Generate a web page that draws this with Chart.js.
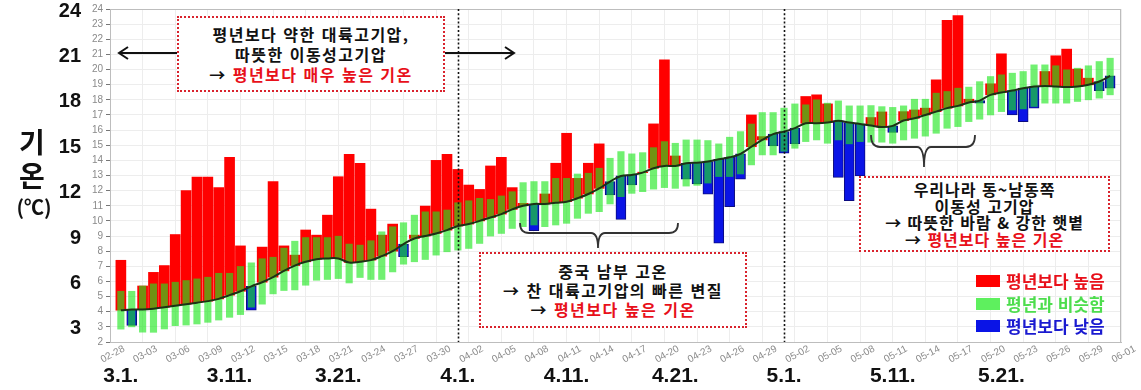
<!DOCTYPE html>
<html lang="ko">
<head>
<meta charset="utf-8">
<script src="https://cdn.jsdelivr.net/npm/chart.js@4/dist/chart.umd.min.js"></script>
<style>
  html, body { margin: 0; padding: 0; background: #fff; }
  #wrap { position: relative; width: 1141px; height: 390px; overflow: hidden; font-family: 'Noto Sans CJK KR', sans-serif; }
  #c { position: absolute; left: 0; top: 0; }
  .box { position: absolute; box-sizing: border-box; border: 2px dotted #d9232d; background: #fff;
         display: flex; flex-direction: column; justify-content: center; align-items: center;
         font-size: 16px; font-weight: bold; letter-spacing: 1.5px; color: #111; white-space: nowrap; }
  .red { color: #e8101a; }
  .ytitle { position: absolute; font-weight: bold; color: #111; text-align: center; }
  .leg { position: absolute; left: 976px; display: flex; align-items: center; font-weight: bold; font-size: 17px; white-space: nowrap; }
  .leg span.sw { display: inline-block; width: 24px; height: 12px; margin-right: 6px; }
</style>
</head>
<body>
<div id="wrap">
  <canvas id="c" width="1141" height="390"></canvas>

  <div class="ytitle" style="left:14px; top:124px; width:36px; font-size:28px; line-height:34px;">기</div>
  <div class="ytitle" style="left:14px; top:158px; width:36px; font-size:28px; line-height:34px;">온</div>
  <div class="ytitle" style="left:10px; top:195px; width:48px; font-size:20px; line-height:24px;">(℃)</div>

  <div class="box" style="left:177px; top:16px; width:268px; height:76px; line-height:20px;">
    <div>평년보다 약한 대륙고기압,</div>
    <div>따뜻한 이동성고기압</div>
    <div>→ <span class="red">평년보다 매우 높은 기온</span></div>
  </div>

  <div class="box" style="left:479px; top:252px; width:268px; height:76px; line-height:19px;">
    <div>중국 남부 고온</div>
    <div>→ 찬 대륙고기압의 빠른 변질</div>
    <div>→ <span class="red">평년보다 높은 기온</span></div>
  </div>

  <div class="box" style="left:859px; top:176px; width:251px; height:76px; line-height:16.5px; letter-spacing:1px;">
    <div>우리나라 동~남동쪽</div>
    <div>이동성 고기압</div>
    <div>→ 따뜻한 바람 &amp; 강한 햇볕</div>
    <div>→ <span class="red">평년보다 높은 기온</span></div>
  </div>

  <div class="leg" style="top:268px; color:#e8101a;"><span class="sw" style="background:#ff0000"></span>평년보다 높음</div>
  <div class="leg" style="top:291px; color:#4ddd4d;"><span class="sw" style="background:#5ef05e"></span>평년과 비슷함</div>
  <div class="leg" style="top:313px; color:#1a1ad0;"><span class="sw" style="background:#0a14e6"></span>평년보다 낮음</div>
</div>

<script>
// ---- categories (axis runs 02-28 .. 06-01; data 03-01 .. 05-31) ----
const dates = [
  '02-28',
  '03-01','03-02','03-03','03-04','03-05','03-06','03-07','03-08','03-09','03-10',
  '03-11','03-12','03-13','03-14','03-15','03-16','03-17','03-18','03-19','03-20',
  '03-21','03-22','03-23','03-24','03-25','03-26','03-27','03-28','03-29','03-30','03-31',
  '04-01','04-02','04-03','04-04','04-05','04-06','04-07','04-08','04-09','04-10',
  '04-11','04-12','04-13','04-14','04-15','04-16','04-17','04-18','04-19','04-20',
  '04-21','04-22','04-23','04-24','04-25','04-26','04-27','04-28','04-29','04-30',
  '05-01','05-02','05-03','05-04','05-05','05-06','05-07','05-08','05-09','05-10',
  '05-11','05-12','05-13','05-14','05-15','05-16','05-17','05-18','05-19','05-20',
  '05-21','05-22','05-23','05-24','05-25','05-26','05-27','05-28','05-29','05-30','05-31',
  '06-01'
];

// observed daily mean temperature (03-01 .. 05-31)
const actual = [
  7.4, 3.1, 5.7, 6.6, 7.05, 9.1, 12.0, 12.9, 12.9, 12.2,
  14.2, 8.35, 4.1, 8.27, 12.6, 8.35, 7.74, 9.4, 9.06, 10.38,
  12.92, 14.4, 13.8, 10.78, 9.06, 9.79, 7.63, 9.06, 10.98, 14.0,
  14.4, 13.4, 12.37, 12.08, 13.63, 14.2, 12.2, 11.16, 9.35, 11.78,
  13.81, 15.79, 12.81, 13.81, 15.09, 11.71, 10.1, 12.37, 13.22, 16.41,
  20.65, 14.29, 12.75, 12.44, 11.76, 8.53, 10.94, 12.75, 17.0, 15.57,
  14.95, 14.47, 15.09, 18.22, 18.33, 17.73, 12.88, 11.34, 12.97, 16.83,
  17.2, 15.84, 17.22, 17.33, 17.45, 19.32, 23.25, 23.56, 18.04, 17.78,
  19.06, 21.04, 17.0, 16.56, 17.45, 19.87, 20.91, 21.35, 20.03, 19.43,
  18.61, 18.77
];

// climatological normal (black line)
const normal = [
  4.1, 4.15, 4.15, 4.2, 4.3, 4.4, 4.5, 4.6, 4.7, 4.85,
  5.1, 5.35, 5.68, 5.95, 6.28, 6.7, 7.05, 7.3, 7.47, 7.52,
  7.52, 7.25, 7.3, 7.41, 7.67, 8.0, 8.47, 8.84, 9.0, 9.17,
  9.39, 9.66, 9.79, 10.0, 10.23, 10.45, 10.76, 11.0, 11.12, 11.12,
  11.2, 11.27, 11.5, 11.78, 12.15, 12.6, 12.97, 13.04, 13.19, 13.48,
  13.63, 13.63, 13.81, 13.85, 13.92, 14.07, 14.2, 14.43, 14.9, 15.35,
  15.73, 15.9, 16.13, 16.45, 16.45, 16.5, 16.61, 16.5, 16.41, 16.3,
  16.2, 16.28, 16.63, 16.78, 17.0, 17.22, 17.45, 17.6, 17.82, 17.95,
  18.33, 18.48, 18.61, 18.77, 18.88, 18.92, 18.88, 18.84, 18.88, 18.99,
  19.21, 19.58
];

// normal range (green bars): lower and upper bounds
const normLow = [
  2.85, 3.0, 2.65, 2.64, 2.86, 3.08, 3.12, 3.19, 3.3, 3.45,
  3.63, 3.81, 4.3, 4.5, 5.18, 5.4, 5.44, 5.75, 6.08, 6.13,
  6.19, 5.9, 6.26, 6.13, 6.13, 6.63, 7.14, 7.3, 7.45, 7.74,
  7.96, 8.07, 8.18, 8.51, 9.0, 9.17, 9.5, 9.62, 9.73, 9.62,
  9.73, 9.84, 10.17, 10.5, 10.61, 11.12, 11.6, 11.82, 11.93, 12.1,
  12.2, 12.15, 12.3, 12.35, 12.5, 12.93, 12.93, 13.1, 13.7, 14.36,
  14.36, 14.6, 14.8, 15.24, 15.35, 15.13, 15.35, 15.09, 15.24, 15.2,
  15.2, 15.13, 15.35, 15.46, 15.6, 15.79, 16.12, 16.23, 16.56, 16.72,
  17.0, 17.22, 17.33, 17.4, 17.56, 17.78, 17.78, 17.78, 17.89, 18.0,
  18.11, 18.33
];
const normHigh = [
  5.35, 5.35, 5.7, 5.84, 5.84, 5.95, 6.06, 6.17, 6.28, 6.54,
  6.54, 6.99, 7.23, 7.5, 7.6, 8.2, 8.66, 8.9, 8.9, 8.9,
  8.99, 8.47, 8.4, 8.69, 9.28, 9.61, 9.88, 10.38, 10.6, 10.6,
  10.72, 11.2, 11.33, 11.49, 11.42, 11.65, 11.93, 12.53, 12.6, 12.6,
  12.81, 12.81, 13.1, 13.15, 13.48, 14.14, 14.58, 14.43, 14.51, 14.84,
  15.24, 15.13, 15.35, 15.35, 15.31, 15.09, 15.53, 15.9, 16.4, 17.16,
  17.16, 17.45, 17.73, 17.67, 18.0, 17.78, 17.93, 17.6, 17.6, 17.62,
  17.55, 17.5, 17.6, 18.04, 18.04, 18.44, 18.55, 18.77, 18.84, 19.2,
  19.54, 19.65, 19.76, 19.87, 20.31, 20.31, 20.25, 19.98, 20.09, 20.25,
  20.53, 20.75
];

// big axis labels
const bigYTicks = [3, 6, 9, 12, 15, 18, 21, 24];
const bigXDates = ['03-01','03-11','03-21','04-01','04-11','04-21','05-01','05-11','05-21'];
const bigXLabels = ['3.1.','3.11.','3.21.','4.1.','4.11.','4.21.','5.1.','5.11.','5.21.'];
const dividerDates = ['04-01','05-01'];

// ---- build datasets (pad first/last axis category with null) ----
const pad = arr => [null, ...arr, null];
const redData = pad(actual.map((v, i) => v > normal[i] ? [normal[i], v] : null));
const blueData = pad(actual.map((v, i) => v < normal[i] ? [v, normal[i]] : null));
const greenData = pad(normLow.map((v, i) => [v, normHigh[i]]));
const lineData = pad(normal);

const annot = {
  id: 'annot',
  afterDraw(chart) {
    const { ctx, chartArea: a, scales } = chart;
    const xs = scales.x;
    ctx.save();
    // frame
    ctx.strokeStyle = '#bdbdbd';
    ctx.lineWidth = 1;
    ctx.strokeRect(a.left + 0.5, a.top + 0.5, a.right - a.left - 1, a.bottom - a.top);
    // dotted dividers
    ctx.strokeStyle = '#111';
    ctx.lineWidth = 1.6;
    ctx.setLineDash([2, 2.2]);
    dividerDates.forEach(d => {
      const px = Math.round(xs.getPixelForValue(dates.indexOf(d))) + 0.5;
      ctx.beginPath(); ctx.moveTo(px, a.top); ctx.lineTo(px, a.bottom); ctx.stroke();
    });
    ctx.setLineDash([]);
    // arrows
    ctx.strokeStyle = '#111';
    ctx.lineWidth = 2;
    const arrow = (x1, x2, y) => {
      const dir = Math.sign(x2 - x1);
      ctx.beginPath(); ctx.moveTo(x1, y); ctx.lineTo(x2, y); ctx.stroke();
      ctx.beginPath();
      ctx.moveTo(x2 - dir * 9, y - 6); ctx.lineTo(x2, y); ctx.lineTo(x2 - dir * 9, y + 6);
      ctx.stroke();
    };
    arrow(177, 119, 53);
    arrow(445, 514, 53);
    // braces
    ctx.strokeStyle = '#333';
    ctx.lineWidth = 1.8;
    const brace = (x1, x2, yTop, yMid, xc, tip) => {
      ctx.beginPath();
      ctx.moveTo(x1, yTop);
      ctx.quadraticCurveTo(x1, yMid, x1 + 9, yMid);
      ctx.lineTo(xc - 7, yMid);
      ctx.quadraticCurveTo(xc, yMid, xc, tip);
      ctx.moveTo(xc, tip);
      ctx.quadraticCurveTo(xc, yMid, xc + 7, yMid);
      ctx.lineTo(x2 - 9, yMid);
      ctx.quadraticCurveTo(x2, yMid, x2, yTop);
      ctx.stroke();
    };
    brace(520, 678, 223, 233, 598, 248);
    brace(871, 975, 135, 147, 924, 167);
    ctx.restore();
  }
};

new Chart(document.getElementById('c'), {
  type: 'bar',
  data: {
    labels: dates,
    datasets: [
      { type: 'line', label: '평년값', data: lineData, borderColor: '#1c3316', borderWidth: 2,
        pointRadius: 0, tension: 0.4, order: 0, spanGaps: false },
      { label: '평년과 비슷함', data: greenData, backgroundColor: 'rgba(30,232,30,0.63)',
        barThickness: 6.5, grouped: false, order: 1 },
      { label: '평년보다 높음', data: redData, backgroundColor: '#ff0000',
        barThickness: 10, grouped: false, order: 2 },
      { label: '평년보다 낮음', data: blueData, backgroundColor: '#0a14e6', borderColor: '#0c0c80',
        borderWidth: 1, borderSkipped: false, barThickness: 10, grouped: false, order: 2 }
    ]
  },
  options: {
    responsive: false,
    animation: false,
    layout: { padding: { top: 9, right: 20, left: 0, bottom: 0 } },
    plugins: { legend: { display: false }, tooltip: { enabled: false } },
    scales: {
      x: {
        type: 'category', position: 'bottom', weight: 0, offset: false,
        grid: { color: '#ededed', drawTicks: false, offset: false },
        border: { color: '#bdbdbd' },
        ticks: { autoSkip: false, maxRotation: 28, minRotation: 28, labelOffset: 14, padding: 1,
                 color: '#8a8a8a', font: { size: 10, family: 'Liberation Sans' } },
        afterBuildTicks: ax => { ax.ticks = ax.ticks.filter(t => t.value % 3 === 0); },
        afterFit: ax => { ax.height = 20; ax.paddingLeft = 0; ax.paddingRight = 0; }
      },
      xBig: {
        type: 'category', position: 'bottom', weight: 1, offset: false,
        grid: { display: false, drawTicks: false },
        border: { display: false },
        ticks: { autoSkip: false, maxRotation: 0, minRotation: 0, padding: 2, color: '#111',
                 font: { size: 21, weight: 'bold', family: 'Liberation Sans' },
                 callback: v => bigXLabels[bigXDates.indexOf(dates[v])] },
        afterBuildTicks: ax => { ax.ticks = bigXDates.map(d => ({ value: dates.indexOf(d) })); },
        afterFit: ax => { ax.height = 28; ax.paddingLeft = 0; ax.paddingRight = 0; }
      },
      y: {
        type: 'linear', position: 'left', weight: 0, min: 2, max: 24,
        ticks: { stepSize: 1, color: '#8a8a8a', padding: 3, font: { size: 10, family: 'Liberation Sans' } },
        grid: { color: '#ededed', tickLength: 4, tickColor: '#777' },
        border: { color: '#bdbdbd' },
        afterFit: ax => { ax.width = 27; ax.paddingTop = 0; ax.paddingBottom = 0; }
      },
      yBig: {
        type: 'linear', position: 'left', weight: 1, min: 2, max: 24,
        grid: { display: false, drawTicks: false },
        border: { display: false },
        ticks: { color: '#111', padding: 2, labelOffset: 2,
                 font: { size: 20, weight: 'bold', family: 'Liberation Sans' } },
        afterBuildTicks: ax => { ax.ticks = bigYTicks.map(v => ({ value: v })); },
        afterFit: ax => { ax.width = 83; ax.paddingTop = 0; ax.paddingBottom = 0; }
      }
    }
  },
  plugins: [annot]
});
</script>
</body>
</html>
